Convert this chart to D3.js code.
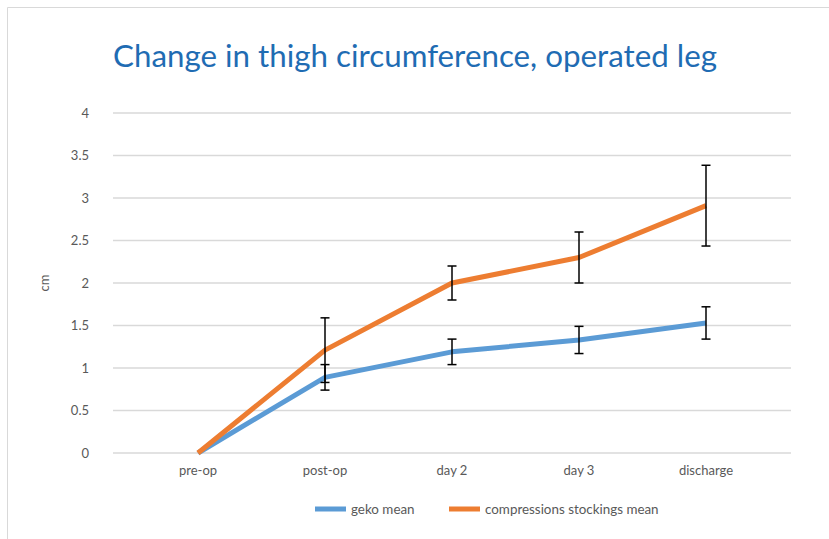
<!DOCTYPE html>
<html><head><meta charset="utf-8">
<script src="https://cdn.jsdelivr.net/npm/d3@7"></script>
<style>body{margin:0;background:#fff;} svg{display:block;}</style>
</head><body>
<svg id="chart" width="829" height="539"></svg>
<script>
const categories = ["pre-op", "post-op", "day 2", "day 3", "discharge"];
const gekoMean = [0, 0.89, 1.19, 1.33, 1.53];
const gekoErr = [0, 0.15, 0.15, 0.16, 0.19];
const stockMean = [0, 1.21, 2.0, 2.3, 2.91];
const stockErr = [0, 0.38, 0.2, 0.3, 0.475];
const yTicks = [0, 0.5, 1, 1.5, 2, 2.5, 3, 3.5, 4];
const seriesNames = ["geko mean", "compressions stockings mean"];
const colors = ["#5b9bd5", "#ed7d31"];

const svg = d3.select("#chart");
const font = "Lato, 'Open Sans', sans-serif";

// outer border
svg.append("path").attr("d", "M7.5,539 L7.5,7.5 L829,7.5")
  .attr("fill", "none").attr("stroke", "#d9d9d9").attr("stroke-width", 1);

const gridLeft = 113, gridRight = 791;
const x = d3.scaleBand().domain(categories).range([134.5, 769.5]);
const y = d3.scaleLinear().domain([0, 4]).range([453, 113]);

// title
svg.append("text").attr("x", 113).attr("y", 67)
  .attr("font-family", font).attr("font-size", 31).attr("fill", "#1f6cb3")
  .attr("textLength", 604).attr("lengthAdjust", "spacingAndGlyphs")
  .text("Change in thigh circumference, operated leg");

// gridlines
svg.append("g").selectAll("line").data(yTicks).join("line")
  .attr("x1", gridLeft).attr("x2", gridRight)
  .attr("y1", d => y(d)).attr("y2", d => y(d))
  .attr("stroke", "#d9d9d9").attr("stroke-width", 1.5);

// y axis labels
const yAxis = d3.axisLeft(y).tickValues(yTicks).tickSize(0).tickPadding(0)
  .tickFormat(d => String(d));
const gy = svg.append("g").attr("transform", "translate(89,0)").call(yAxis);
gy.select(".domain").remove();
gy.selectAll("text").attr("font-family", font).attr("font-size", 13).attr("fill", "#595959");

// x axis labels
const xAxis = d3.axisBottom(x).tickSize(0).tickPadding(0);
const gx = svg.append("g").attr("transform", "translate(0,466)").call(xAxis);
gx.select(".domain").remove();
gx.selectAll("text").attr("font-family", font).attr("font-size", 13).attr("fill", "#595959");

// y axis title
svg.append("text").attr("transform", "translate(49,283) rotate(-90)")
  .attr("text-anchor", "middle").attr("font-family", font).attr("font-size", 13)
  .attr("fill", "#595959").text("cm");

const cx = d => x(d) + x.bandwidth() / 2;
const line = d3.line().x((d, i) => cx(categories[i])).y(d => y(d));

const series = [[gekoMean, gekoErr], [stockMean, stockErr]];
series.forEach(([m, e], s) => {
  svg.append("path").datum(m).attr("d", line)
    .attr("fill", "none").attr("stroke", colors[s]).attr("stroke-width", 5)
    .attr("stroke-linejoin", "round");
});
// error bars
series.forEach(([m, e], s) => {
  const data = m.map((v, i) => ({c: categories[i], v, e: e[i]})).filter(d => d.e > 0);
  const g = svg.append("g").attr("stroke", "#000").attr("stroke-width", 1.5);
  g.selectAll(".v").data(data).join("line")
    .attr("x1", d => cx(d.c)).attr("x2", d => cx(d.c))
    .attr("y1", d => y(d.v + d.e)).attr("y2", d => y(d.v - d.e));
  g.selectAll(".t").data(data).join("line")
    .attr("x1", d => cx(d.c) - 4.5).attr("x2", d => cx(d.c) + 4.5)
    .attr("y1", d => y(d.v + d.e)).attr("y2", d => y(d.v + d.e));
  g.selectAll(".b").data(data).join("line")
    .attr("x1", d => cx(d.c) - 4.5).attr("x2", d => cx(d.c) + 4.5)
    .attr("y1", d => y(d.v - d.e)).attr("y2", d => y(d.v - d.e));
});

// legend
const legX = [315, 449];
seriesNames.forEach((n, i) => {
  svg.append("line").attr("x1", legX[i]).attr("x2", legX[i] + 31)
    .attr("y1", 509).attr("y2", 509).attr("stroke", colors[i]).attr("stroke-width", 5);
  svg.append("text").attr("x", legX[i] + 36).attr("y", 513.5)
    .attr("font-family", font).attr("font-size", 13.4).attr("fill", "#595959").text(n);
});
</script>
</body></html>
